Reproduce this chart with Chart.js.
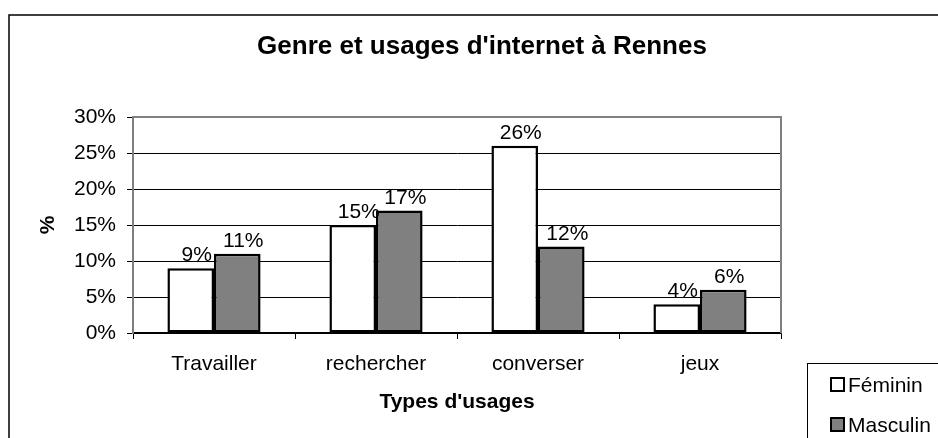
<!DOCTYPE html>
<html>
<head>
<meta charset="utf-8">
<title>Genre et usages d'internet à Rennes</title>
<script src="https://cdn.jsdelivr.net/npm/chart.js@4/dist/chart.umd.min.js"></script>
<style>
  body { margin: 0; background: #fff; }
  canvas { display: block; }
</style>
</head>
<body>
<canvas id="chart" width="938" height="438"></canvas>
<script>
const usages = ['Travailler', 'rechercher', 'converser', 'jeux'];
const feminin = [9, 15, 26, 4];
const masculin = [11, 17, 12, 6];
const yTicks = [0, 5, 10, 15, 20, 25, 30];

const FONT = "'Liberation Sans', Arial, sans-serif";

// titre, cadre, étiquettes et légende dessinés à la main
const decor = {
    id: 'decor',
    afterDraw(chart) {
        const ctx = chart.ctx;
        const area = chart.chartArea;
        ctx.save();

        // bordure extérieure (coupée à droite et en bas)
        ctx.strokeStyle = '#000';
        ctx.lineWidth = 1.5;
        ctx.strokeRect(9, 15, 960, 460);

        // titre
        ctx.fillStyle = '#000';
        ctx.font = 'bold 26px ' + FONT;
        ctx.textAlign = 'center';
        ctx.textBaseline = 'middle';
        ctx.fillText("Genre et usages d'internet à Rennes", 482, 47);

        // haut et droite du cadre
        ctx.strokeStyle = '#808080';
        ctx.lineWidth = 2;
        ctx.beginPath();
        ctx.moveTo(area.left, area.top);
        ctx.lineTo(area.right, area.top);
        ctx.lineTo(area.right, area.bottom);
        ctx.stroke();

        // valeurs au-dessus des barres
        ctx.font = '21px ' + FONT;
        ctx.textBaseline = 'alphabetic';
        chart.data.datasets.forEach((ds, i) => {
            chart.getDatasetMeta(i).data.forEach((bar, j) => {
                ctx.fillText(ds.data[j] + '%', bar.x + 6, bar.y - 7);
            });
        });

        // légende
        ctx.strokeStyle = '#000';
        ctx.lineWidth = 1;
        ctx.strokeRect(807.5, 363.5, 200, 100);
        ctx.textAlign = 'left';
        ctx.textBaseline = 'middle';
        chart.data.datasets.forEach((ds, i) => {
            const y = 385 + i * 40;
            ctx.fillStyle = ds.backgroundColor;
            ctx.fillRect(831, y - 7, 13, 13);
            ctx.lineWidth = 2;
            ctx.strokeRect(831, y - 7, 13, 13);
            ctx.fillStyle = '#000';
            ctx.fillText(ds.label, 848, y + 1);
        });
        ctx.restore();
    }
};

new Chart(document.getElementById('chart'), {
    type: 'bar',
    data: {
        labels: usages,
        datasets: [
            {
                label: 'Féminin',
                data: feminin,
                backgroundColor: '#ffffff',
                borderColor: '#000',
                borderWidth: 2.5,
                borderSkipped: false
            },
            {
                label: 'Masculin',
                data: masculin,
                backgroundColor: '#808080',
                borderColor: '#000',
                borderWidth: 2.5,
                borderSkipped: false
            }
        ]
    },
    options: {
        responsive: false,
        animation: false,
        datasets: { bar: { categoryPercentage: 0.575, barPercentage: 1 } },
        layout: { padding: { top: 117, right: 157, left: 20, bottom: 0 } },
        plugins: {
            legend: { display: false },
            title: { display: false },
            tooltip: { enabled: false }
        },
        scales: {
            x: {
                afterFit(scale) { scale.height = 105; },
                grid: { drawOnChartArea: false, drawTicks: true, tickLength: 6, tickColor: '#000', offset: true },
                border: { color: '#000', width: 1.5 },
                ticks: { color: '#000', padding: 13, font: { family: FONT, size: 21 } },
                title: {
                    display: true,
                    text: "Types d'usages",
                    color: '#000',
                    font: { family: FONT, size: 21, weight: 'bold' },
                    padding: { top: 0, bottom: 23 }
                }
            },
            y: {
                min: 0,
                max: 30,
                afterFit(scale) { scale.width = 113; },
                afterBuildTicks(scale) { scale.ticks = yTicks.map(v => ({ value: v })); },
                grid: { color: '#000', lineWidth: 1, tickLength: 6, tickColor: '#000' },
                border: { color: '#808080', width: 2 },
                ticks: {
                    color: '#000',
                    padding: 11,
                    font: { family: FONT, size: 21 },
                    callback: v => v + '%'
                },
                title: {
                    display: true,
                    text: '%',
                    color: '#000',
                    font: { family: FONT, size: 21, weight: 'bold' },
                    padding: { top: 16, bottom: 0 }
                }
            }
        }
    },
    plugins: [decor]
});
</script>
</body>
</html>
